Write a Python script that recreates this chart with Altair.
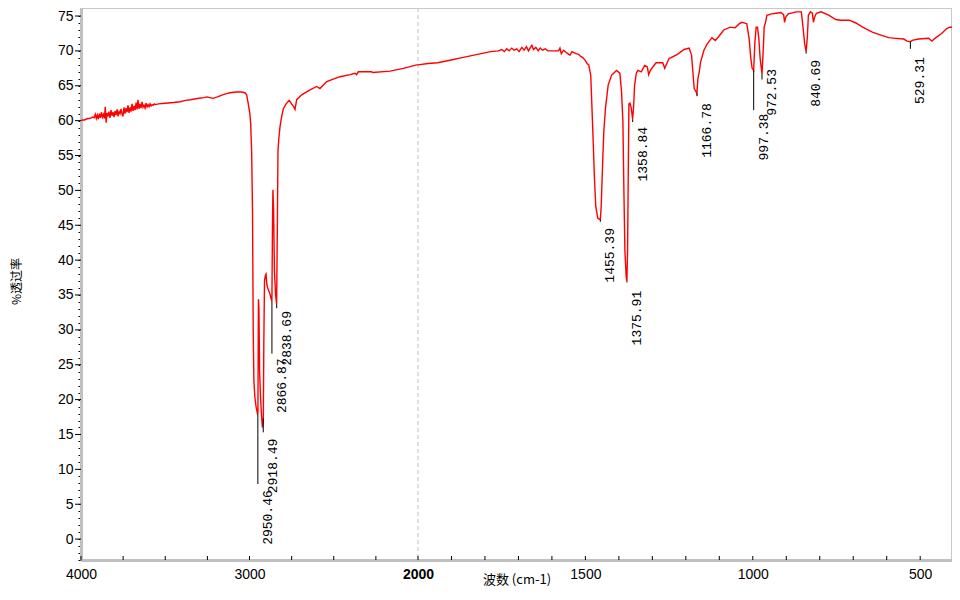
import altair as alt
import pandas as pd

# ---------------- spectrum (wavenumber, %T) ----------------
wavenumber = [
    4000, 3990, 3980, 3970, 3960, 3950, 3940, 3930, 3922, 3915, 3909, 3903, 3897, 3891,
    3885, 3879, 3873, 3867, 3861, 3856, 3851, 3846, 3840, 3834, 3828, 3822, 3816, 3810,
    3804, 3798, 3792, 3786, 3780, 3774, 3768, 3762, 3756, 3751, 3745, 3739, 3733, 3727,
    3721, 3715, 3709, 3703, 3697, 3691, 3685, 3679, 3673, 3667, 3662, 3656, 3650, 3644,
    3638, 3632, 3626, 3620, 3614, 3608, 3602, 3596, 3590, 3584, 3578, 3572, 3565, 3558,
    3540, 3500, 3450, 3412, 3380, 3350, 3300, 3270, 3252, 3235, 3217, 3190, 3160, 3130,
    3116, 3080, 3050, 3027, 3017, 3008, 2998, 2993, 2987, 2982, 2978, 2974, 2968, 2961,
    2953, 2950, 2947, 2944, 2940, 2934, 2928, 2923, 2918, 2915, 2911, 2906, 2902, 2897,
    2892, 2884, 2878, 2872, 2867, 2864, 2861, 2857, 2852, 2845, 2839, 2835, 2831, 2826,
    2819, 2809, 2799, 2783, 2764, 2750, 2738, 2730, 2720, 2690, 2641, 2601, 2582, 2542,
    2463, 2403, 2374, 2364, 2354, 2275, 2269, 2166, 2087, 2008, 2000, 1970, 1941, 1901,
    1872, 1822, 1783, 1760, 1750, 1742, 1735, 1728, 1720, 1713, 1705, 1698, 1690, 1683,
    1676, 1670, 1664, 1660, 1655, 1648, 1641, 1635, 1628, 1620, 1612, 1600, 1590, 1580,
    1576, 1572, 1565, 1558, 1550, 1546, 1540, 1536, 1528, 1520, 1514, 1507, 1500, 1495,
    1490, 1484, 1479, 1476, 1473, 1469, 1463, 1455.4, 1453, 1451, 1448, 1445, 1440, 1432,
    1422, 1407, 1397, 1392, 1388, 1385, 1382, 1378, 1376, 1374, 1372, 1370, 1367, 1363,
    1359, 1356, 1353, 1348, 1343, 1333, 1323, 1315, 1311, 1306, 1289, 1269, 1263, 1256,
    1250, 1225, 1205, 1190, 1183, 1179, 1175, 1170, 1167, 1164, 1160, 1156, 1146, 1136,
    1122, 1112, 1101, 1087, 1067, 1053, 1040, 1032, 1018, 1011, 1006, 1002, 997.4, 994,
    990, 986, 982, 978, 972.5, 969, 966, 962, 958, 944, 930, 916, 908, 905, 902, 894,
    870, 855, 850, 845, 840.7, 837, 834, 828, 822, 819, 815, 810, 796, 772, 752, 737,
    712, 692, 672, 643, 613, 594, 574, 549, 539, 529.3, 524, 505, 475, 465, 456, 436,
    421, 411, 405,
]
transmittance = [
    60.0, 60.1, 60.1, 60.2, 60.3, 60.3, 60.4, 60.5, 60.4, 60.9, 60.3, 60.8, 60.2, 61.0,
    60.4, 61.2, 60.5, 60.9, 60.3, 62.0, 59.7, 61.1, 60.6, 61.3, 60.4, 61.5, 60.7, 61.2,
    60.5, 61.4, 60.8, 61.6, 60.6, 61.3, 61.0, 61.7, 60.9, 60.6, 61.9, 61.0, 61.8, 61.2,
    62.2, 61.1, 61.9, 61.3, 62.4, 61.4, 62.1, 61.5, 62.6, 61.6, 63.0, 61.7, 62.4, 61.8,
    62.7, 61.9, 62.2, 61.8, 62.5, 62.0, 62.3, 62.0, 62.4, 62.1, 62.3, 62.2, 62.4, 62.3,
    62.4, 62.5, 62.6, 62.7, 62.9, 63.0, 63.2, 63.3, 63.4, 63.3, 63.2, 63.4, 63.7, 63.9,
    64.0, 64.1, 64.1, 64.0, 63.7, 62.5, 61.0, 59.6, 55.3, 46.7, 30.0, 22.7, 20.3, 19.0,
    18.0, 18.1, 34.4, 33.0, 24.0, 20.0, 17.5, 16.0, 17.3, 28.0, 37.0, 37.8, 38.0, 36.5,
    36.0, 35.5, 35.1, 34.5, 34.1, 43.9, 50.1, 47.3, 38.4, 35.0, 33.7, 44.1, 55.6, 57.4,
    59.1, 60.6, 61.7, 62.4, 62.9, 62.4, 62.0, 61.6, 63.0, 63.7, 64.4, 64.9, 64.6, 65.6,
    66.3, 66.6, 66.8, 66.6, 67.0, 67.0, 66.9, 67.1, 67.5, 68.0, 68.0, 68.2, 68.3, 68.7,
    69.0, 69.5, 69.9, 70.0, 70.2, 69.9, 70.3, 70.0, 70.4, 70.1, 70.3, 69.9, 70.5, 70.1,
    70.6, 70.0, 70.5, 70.8, 70.2, 70.5, 70.0, 70.4, 70.1, 70.3, 70.0, 70.0, 70.0, 70.0,
    70.4, 69.6, 70.1, 69.8, 69.5, 69.4, 69.9, 69.8, 69.6, 69.5, 69.2, 69.0, 68.6, 68.2,
    68.0, 66.5, 60.0, 56.0, 51.8, 47.7, 46.0, 45.8, 47.5, 50.3, 54.6, 58.4, 61.8, 65.1,
    66.5, 67.2, 66.8, 64.1, 59.9, 49.9, 41.3, 37.5, 37.0, 41.5, 52.3, 62.4, 62.5, 61.8,
    60.2, 62.0, 65.1, 66.8, 67.2, 67.0, 67.9, 67.7, 66.6, 67.2, 68.3, 68.3, 67.5, 68.3,
    68.9, 69.5, 70.2, 70.4, 69.4, 67.0, 64.6, 64.2, 63.9, 66.0, 67.0, 68.4, 70.1, 71.0,
    71.9, 71.5, 72.1, 73.0, 73.4, 73.3, 73.9, 74.1, 73.9, 71.8, 69.0, 67.5, 67.2, 71.0,
    73.4, 73.4, 71.8, 68.9, 66.7, 69.9, 73.4, 74.1, 75.1, 75.3, 75.4, 75.5, 75.2, 74.1,
    74.8, 75.3, 75.6, 75.6, 73.4, 71.0, 69.9, 72.0, 75.1, 75.6, 75.4, 74.1, 74.9, 75.4,
    75.6, 75.1, 74.5, 74.4, 74.4, 74.0, 73.4, 72.7, 72.2, 71.9, 71.8, 71.7, 71.4, 71.3,
    71.5, 71.7, 71.8, 71.4, 71.8, 72.5, 73.2, 73.4, 73.4,
]

# ---------------- peak annotations ----------------
peak_wn = [2950.46, 2918.49, 2866.87, 2838.69, 1455.39, 1375.91, 1358.84, 1166.78,
           997.38, 972.53, 840.69, 529.31]
peak_label = ["2950.46", "2918.49", "2866.87", "2838.69", "1455.39", "1375.91",
              "1358.84", "1166.78", "997.38", "972.53", "840.69", "529.31"]
peak_T = [18.0, 17.3, 34.1, 33.7, 45.8, 37.0, 60.2, 63.9, 67.2, 66.7, 69.9, 71.3]
peak_line_end = [7.9, 15.3, 26.6, 33.1, 45.5, 36.8, 59.8, 63.5, 61.5, 65.9, 69.6, 70.3]
peak_text_top = [7.0, 14.4, 25.9, 32.7, 44.6, 35.6, 59.1, 62.5, 61.0, 67.4, 68.7, 69.1]

# ---------------- axes ----------------
x_labeled = [4000, 3000, 2000, 1500, 1000, 500]
x_minor = [4000, 3750, 3500, 3250, 3000, 2750, 2500, 2250, 2000, 1900, 1800, 1700,
           1600, 1500, 1400, 1300, 1200, 1100, 1000, 900, 800, 700, 600, 500]
y_all = list(range(-3, 76))
y_major = list(range(0, 80, 5))
divider = [2000]

W, H = 871, 552
xscale = alt.Scale(domain=[4000, 2000, 405], range=[0, 337, W], nice=False, zero=False)
yscale = alt.Scale(domain=[-3, 76.15], nice=False, zero=False)

spec_df = pd.DataFrame({"wn": wavenumber, "T": transmittance})
peaks_df = pd.DataFrame({"wn": peak_wn, "T": peak_T, "T2": peak_line_end,
                         "Ttext": peak_text_top, "label": peak_label})
xt_df = pd.DataFrame({"wn": x_minor})
yt_df = pd.DataFrame({"T": y_major})
div_df = pd.DataFrame({"wn": divider})

x_axis = alt.Axis(
    values=x_labeled, format="d", title="波数 (cm-1)", grid=False, ticks=False, tickSize=0,
    domainColor="#c0c0c0", domainWidth=3, labelPadding=7,
    labelFont="Liberation Sans", labelFontSize=14, labelColor="#000000",
    labelFontWeight={"condition": {"test": "datum.value == 2000", "value": "bold"}, "value": "normal"},
    labelFlush=False, labelOverlap=False,
    titleFont="Noto Sans CJK SC", titleFontSize=13, titleFontWeight="normal",
    titleColor="#000000", titleY=19, titleBaseline="middle",
)
y_axis = alt.Axis(
    values=y_all, format="d", title="%透过率", grid=False, tickColor="#000000", tickSize=3, tickWidth=1,
    domainColor="#c0c0c0", domainWidth=3, labelPadding=5,
    labelExpr="datum.value % 5 == 0 ? datum.label : ''",
    labelFont="Liberation Sans", labelFontSize=14, labelColor="#000000",
    labelFlush=False, labelOverlap=False,
    titleFont="Noto Sans CJK SC", titleFontSize=12, titleFontWeight="normal",
    titleColor="#000000", titleAngle=270, titleAlign="center", titleBaseline="middle",
    titleX=-65, titleY=273,
)

X = alt.X("wn:Q", scale=xscale, axis=x_axis)

grid2000 = alt.Chart(div_df).mark_rule(color="#c0c0c0", strokeDash=[4, 3], strokeWidth=1).encode(
    x=X, y=alt.value(0), y2=alt.value(H),
)

spectrum = alt.Chart(spec_df).mark_line(color="#ff0000", strokeWidth=1.4).encode(
    x=X,
    y=alt.Y("T:Q", scale=yscale, axis=y_axis),
    order="wn_order:Q",
).transform_window(wn_order="row_number()")

x_ticks = alt.Chart(xt_df).mark_rule(color="#000000", strokeWidth=1).encode(
    x=X, y=alt.value(H - 4), y2=alt.value(H),
)

y_ticks = alt.Chart(yt_df).mark_rule(color="#000000", strokeWidth=1).encode(
    y=alt.Y("T:Q", scale=yscale, axis=y_axis),
    x=alt.value(-6), x2=alt.value(0),
)

peak_lines = alt.Chart(peaks_df).mark_rule(color="#000000", strokeWidth=1).encode(
    x=X,
    y=alt.Y("T:Q", scale=yscale, axis=y_axis),
    y2="T2:Q",
)

peak_text = alt.Chart(peaks_df).mark_text(
    angle=270, align="right", baseline="middle", dy=10,
    font="Liberation Mono", fontSize=13, color="#000000",
).encode(
    x=X,
    y=alt.Y("Ttext:Q", scale=yscale, axis=y_axis),
    text="label:N",
)

chart = alt.layer(grid2000, spectrum, x_ticks, y_ticks, peak_lines, peak_text).properties(
    width=W, height=H,
    autosize=alt.AutoSizeParams(type="none"),
    padding={"left": 73, "top": 0, "right": 0, "bottom": 28},
    background="#ffffff",
).configure_view(stroke="#c8c8c8", strokeWidth=2)

chart.save("out.html", embed_options={"renderer": "svg", "actions": False})
